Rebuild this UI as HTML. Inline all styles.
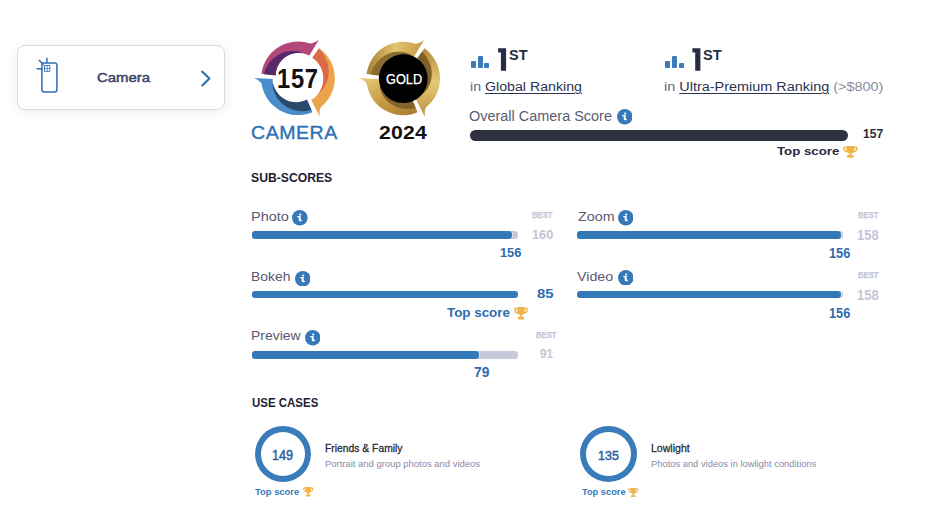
<!DOCTYPE html><html><head><meta charset="utf-8"><title>Camera</title><style>

*{margin:0;padding:0;box-sizing:border-box}
html,body{width:930px;height:512px;overflow:hidden;background:#fff}
body{position:relative;font-family:"Liberation Sans",sans-serif}
.t{position:absolute;white-space:nowrap;line-height:1}
.u{text-decoration:underline;text-decoration-thickness:1px;text-underline-offset:1.5px}

</style></head><body>
<div style="position:absolute;left:16.8px;top:45px;width:208.2px;height:65px;border:1px solid #d6d8e6;border-radius:8px;background:#fff;box-shadow:0 2px 12px rgba(40,50,90,0.09)"></div>
<svg style="position:absolute;left:0;top:0" width="930" height="512" viewBox="0 0 930 512">
<g fill="none" stroke="#2e6db3" stroke-width="1.5">
<rect x="41.9" y="62.9" width="15" height="29.1" rx="2.2"/>
<line x1="46.9" y1="57.8" x2="46.9" y2="63"/>
<line x1="36.6" y1="68.8" x2="42" y2="68.8"/>
<line x1="38.8" y1="60" x2="43.6" y2="64.6"/>
<rect x="43.9" y="64.9" width="6.4" height="6.8" rx="0.6" fill="#2e6db3" stroke="none"/>
<rect x="44.8" y="65.8" width="2.0" height="2.2" fill="#fff" stroke="none"/>
<rect x="47.5" y="65.8" width="2.0" height="2.2" fill="#fff" stroke="none"/>
<rect x="44.8" y="68.7" width="2.0" height="2.2" fill="#fff" stroke="none"/>
<rect x="47.5" y="68.7" width="2.0" height="2.2" fill="#fff" stroke="none"/>
<polyline points="202.1,71.6 209.4,78.5 202.3,85.4" stroke-width="2.1" stroke-linecap="round" stroke-linejoin="round"/>
</g>
<defs>
<linearGradient id="g1" x1="0" y1="0" x2="1" y2="1"><stop offset="0" stop-color="#e9cf7e"/><stop offset="0.5" stop-color="#c89b45"/><stop offset="1" stop-color="#a87a35"/></linearGradient>
<linearGradient id="g2" x1="0" y1="0" x2="1" y2="0"><stop offset="0" stop-color="#a98036"/><stop offset="0.5" stop-color="#e3c471"/><stop offset="1" stop-color="#c79a45"/></linearGradient>
<linearGradient id="g3" x1="0" y1="0" x2="0" y2="1"><stop offset="0" stop-color="#b48a3c"/><stop offset="0.5" stop-color="#e6c976"/><stop offset="1" stop-color="#c09040"/></linearGradient>
</defs><g><path d="M308.16 102.23 L312.38 112.17 A36.80 36.80 0 0 1 261.60 83.74 Q260.30 81.10 254.20 77.92 L272.51 78.97 A25.50 25.50 0 0 0 307.96 101.77 Z" fill="#4a8dca"/><path d="M311.48 110.06 L309.02 110.62 L306.56 110.99 L304.09 111.18 L301.65 111.18 L299.24 111.01 L296.87 110.66 L294.56 110.14 L292.32 109.45 L290.16 108.62 L288.09 107.63 L286.12 106.51 L284.27 105.25 L282.53 103.88 L280.92 102.40 L279.43 100.82 L278.09 99.16 L276.89 97.42 L275.84 95.62 L274.93 93.76 L274.18 91.87 L273.57 89.95 L273.12 88.02 L272.82 86.08 L272.67 84.15 L273.15 84.04 L273.66 85.82 L274.30 87.55 L275.08 89.23 L275.99 90.84 L277.02 92.37 L278.15 93.81 L279.39 95.15 L280.73 96.40 L282.15 97.53 L283.64 98.55 L285.20 99.46 L286.82 100.23 L288.49 100.88 L290.19 101.40 L291.92 101.79 L293.67 102.05 L295.42 102.17 L297.17 102.16 L298.90 102.02 L300.60 101.75 L302.27 101.36 L303.90 100.85 L305.47 100.21 L306.99 99.47 Z" fill="#2a4a6b"/><path d="M272.19 75.13 L261.47 73.82 A36.80 36.80 0 0 1 310.28 43.61 Q313.22 43.70 318.90 39.81 L309.38 55.48 A25.50 25.50 0 0 0 272.69 75.19 Z" fill="#b2477b"/><path d="M263.76 74.10 L264.46 71.88 L265.31 69.74 L266.29 67.69 L267.40 65.73 L268.63 63.87 L269.96 62.11 L271.40 60.47 L272.93 58.95 L274.55 57.55 L276.24 56.28 L277.99 55.14 L279.80 54.14 L281.64 53.27 L283.53 52.55 L285.43 51.96 L287.35 51.50 L289.28 51.19 L291.20 51.01 L293.10 50.97 L294.98 51.05 L296.82 51.26 L298.62 51.60 L300.37 52.05 L302.07 52.62 L301.99 53.11 L300.29 52.93 L298.59 52.88 L296.89 52.97 L295.21 53.17 L293.55 53.50 L291.93 53.95 L290.35 54.51 L288.81 55.17 L287.34 55.95 L285.93 56.82 L284.59 57.79 L283.33 58.84 L282.16 59.97 L281.08 61.18 L280.09 62.45 L279.19 63.78 L278.40 65.16 L277.72 66.59 L277.14 68.05 L276.66 69.54 L276.30 71.04 L276.05 72.55 L275.90 74.07 L275.87 75.58 Z" fill="#57296b"/><path d="M312.91 57.00 L319.11 48.16 A36.80 36.80 0 0 1 320.91 107.10 Q319.27 109.55 319.57 116.42 L311.32 100.04 A25.50 25.50 0 0 0 312.63 57.41 Z" fill="#eca44b"/><path d="M318.94 48.40 L320.53 50.14 L321.99 51.96 L323.31 53.86 L324.49 55.81 L325.52 57.81 L326.41 59.85 L327.15 61.92 L327.74 64.01 L328.19 66.10 L328.49 68.20 L328.65 70.28 L328.68 72.34 L328.56 74.37 L328.31 76.36 L327.94 78.30 L327.44 80.19 L326.82 82.01 L326.10 83.76 L325.27 85.44 L324.34 87.03 L323.32 88.53 L322.22 89.94 L321.05 91.25 L319.81 92.46 L319.39 92.19 L320.23 90.79 L320.97 89.34 L321.62 87.84 L322.17 86.31 L322.62 84.74 L322.97 83.15 L323.21 81.54 L323.35 79.92 L323.39 78.30 L323.31 76.68 L323.14 75.06 L322.86 73.47 L322.48 71.89 L321.99 70.35 L321.41 68.84 L320.74 67.37 L319.97 65.95 L319.11 64.59 L318.17 63.28 L317.15 62.04 L316.05 60.87 L314.88 59.77 L313.64 58.76 L312.34 57.82 Z" fill="#dc6a48"/></g>
<g><path d="M412.89 101.33 L417.58 112.37 A36.80 36.80 0 0 1 366.80 83.94 Q365.50 81.30 359.40 78.12 L378.91 79.14 A24.30 24.30 0 0 0 412.69 100.87 Z" fill="url(#g1)"/><path d="M415.63 107.77 L413.48 108.28 L411.32 108.64 L409.17 108.84 L407.02 108.89 L404.90 108.79 L402.81 108.55 L400.76 108.16 L398.76 107.63 L396.82 106.97 L394.96 106.18 L393.17 105.27 L391.46 104.25 L389.85 103.12 L388.34 101.90 L386.94 100.58 L385.64 99.18 L384.46 97.71 L383.39 96.18 L382.45 94.59 L381.63 92.96 L380.94 91.29 L380.37 89.59 L379.93 87.88 L379.61 86.16 L380.09 86.01 L380.66 87.59 L381.34 89.12 L382.13 90.60 L383.01 92.03 L384.00 93.39 L385.07 94.68 L386.23 95.89 L387.47 97.02 L388.79 98.07 L390.17 99.01 L391.62 99.86 L393.12 100.61 L394.67 101.25 L396.26 101.79 L397.89 102.21 L399.54 102.52 L401.21 102.72 L402.88 102.80 L404.56 102.76 L406.23 102.61 L407.89 102.34 L409.52 101.96 L411.13 101.47 L412.69 100.87 Z" fill="#86632a"/><path d="M378.58 75.48 L366.67 74.02 A36.80 36.80 0 0 1 415.48 43.81 Q418.42 43.90 424.10 40.01 L414.04 56.75 A24.30 24.30 0 0 0 379.08 75.54 Z" fill="url(#g2)"/><path d="M370.64 74.50 L371.37 72.10 L372.27 69.78 L373.34 67.56 L374.57 65.45 L375.94 63.47 L377.44 61.61 L379.07 59.90 L380.81 58.34 L382.64 56.93 L384.56 55.68 L386.54 54.60 L388.58 53.69 L390.67 52.94 L392.77 52.37 L394.90 51.97 L397.02 51.74 L399.13 51.67 L401.21 51.77 L403.26 52.03 L405.25 52.45 L407.18 53.01 L409.04 53.71 L410.81 54.55 L412.49 55.51 L412.30 55.97 L410.56 55.34 L408.77 54.85 L406.95 54.49 L405.11 54.27 L403.25 54.20 L401.40 54.27 L399.56 54.47 L397.73 54.82 L395.94 55.31 L394.20 55.93 L392.50 56.68 L390.87 57.56 L389.31 58.56 L387.83 59.68 L386.43 60.91 L385.14 62.24 L383.95 63.67 L382.88 65.18 L381.92 66.77 L381.09 68.42 L380.38 70.14 L379.81 71.90 L379.38 73.71 L379.08 75.54 Z" fill="#8d6a2d"/><path d="M417.42 58.19 L424.31 48.36 A36.80 36.80 0 0 1 426.11 107.30 Q424.47 109.75 424.77 116.62 L415.90 99.22 A24.30 24.30 0 0 0 417.14 58.59 Z" fill="url(#g3)"/><path d="M422.01 51.63 L423.61 53.25 L425.08 54.97 L426.41 56.76 L427.60 58.63 L428.64 60.55 L429.53 62.52 L430.28 64.53 L430.87 66.56 L431.31 68.61 L431.61 70.67 L431.75 72.71 L431.75 74.74 L431.61 76.74 L431.33 78.70 L430.92 80.62 L430.38 82.48 L429.71 84.28 L428.93 86.00 L428.04 87.64 L427.04 89.20 L425.95 90.66 L424.78 92.03 L423.52 93.29 L422.20 94.44 L421.81 94.12 L422.85 92.80 L423.79 91.41 L424.63 89.95 L425.37 88.45 L426.00 86.89 L426.53 85.30 L426.94 83.67 L427.24 82.02 L427.43 80.35 L427.50 78.68 L427.45 77.00 L427.29 75.33 L427.02 73.67 L426.63 72.04 L426.12 70.44 L425.51 68.88 L424.80 67.36 L423.97 65.89 L423.05 64.49 L422.04 63.15 L420.94 61.89 L419.75 60.70 L418.48 59.60 L417.14 58.59 Z" fill="#806027"/></g>
<circle cx="403.3" cy="78.6" r="24.5" fill="#000"/>
</svg>
<div style="position:absolute;left:471.1px;top:56.1px;width:19px;height:13px"><div style="position:absolute;left:0;top:4.5px;width:4.7px;height:7.8px;background:#3a7bb9;border-radius:1px"></div><div style="position:absolute;left:6.6px;top:0;width:5.1px;height:12.3px;background:#3a7bb9;border-radius:1px"></div><div style="position:absolute;left:13.2px;top:7.2px;width:5.1px;height:5.1px;background:#3a7bb9;border-radius:1px"></div></div>
<div style="position:absolute;left:665.4px;top:56.1px;width:19px;height:13px"><div style="position:absolute;left:0;top:4.5px;width:4.7px;height:7.8px;background:#3a7bb9;border-radius:1px"></div><div style="position:absolute;left:6.6px;top:0;width:5.1px;height:12.3px;background:#3a7bb9;border-radius:1px"></div><div style="position:absolute;left:13.2px;top:7.2px;width:5.1px;height:5.1px;background:#3a7bb9;border-radius:1px"></div></div>
<svg style="position:absolute;left:0;top:0" width="930" height="120"><path d="M498.1 48.2 H506.1 V70.8 H500.9 V52.4 H498.1 Z" fill="#262c44"/></svg>
<svg style="position:absolute;left:0;top:0" width="930" height="120"><path d="M692.4 48.2 H700.4 V70.8 H695.2 V52.4 H692.4 Z" fill="#262c44"/></svg>
<div style="position:absolute;left:470.0px;top:129.5px;width:378.0px;height:11.0px;border-radius:5.5px;background:#2e3240;"></div>
<svg style="position:absolute;left:616.7px;top:109.0px" width="15.6" height="15.6" viewBox="0 0 16 16"><circle cx="8" cy="8" r="8" fill="#3679b9"/><circle cx="8.4" cy="4.7" r="1.1" fill="#fff"/><path d="M5.4 6.1 L8.9 6.1 L8.9 9.7 Q8.9 10.3 9.5 10.1 L10.2 9.9 L10.2 11.0 Q9.4 11.6 8.4 11.6 Q6.9 11.6 6.9 10.2 L6.9 7.4 L5.4 7.4 Z" fill="#fff"/></svg>
<svg style="position:absolute;left:843.0px;top:145.9px" width="14.8" height="11.7" viewBox="0 0 14 12.6" preserveAspectRatio="none"><path d="M3.2 0 H10.8 V4.2 Q10.8 7.4 7.9 8 V9.8 H10 V12.6 H4 V9.8 H6.1 V8 Q3.2 7.4 3.2 4.2 Z" fill="#f0b44a"/><path d="M3.4 1.5 H1 V3.2 Q1 5.6 3.8 6.2" fill="none" stroke="#f0b44a" stroke-width="1.4"/><path d="M10.6 1.5 H13 V3.2 Q13 5.6 10.2 6.2" fill="none" stroke="#f0b44a" stroke-width="1.4"/></svg>
<div style="position:absolute;left:251.8px;top:231.0px;width:266.7px;height:7.6px;border-radius:3.2px;background:#c6c9da;"></div>
<div style="position:absolute;left:251.8px;top:231.0px;width:260.2px;height:7.6px;border-radius:3.2px;background:#3379b8;box-shadow:0.6px 0 0 #f4f0f4"></div>
<svg style="position:absolute;left:292.4px;top:210.0px" width="15.6" height="15.6" viewBox="0 0 16 16"><circle cx="8" cy="8" r="8" fill="#3679b9"/><circle cx="8.4" cy="4.7" r="1.1" fill="#fff"/><path d="M5.4 6.1 L8.9 6.1 L8.9 9.7 Q8.9 10.3 9.5 10.1 L10.2 9.9 L10.2 11.0 Q9.4 11.6 8.4 11.6 Q6.9 11.6 6.9 10.2 L6.9 7.4 L5.4 7.4 Z" fill="#fff"/></svg>
<div style="position:absolute;left:251.8px;top:290.5px;width:266.7px;height:7.6px;border-radius:3.2px;background:#c6c9da;"></div>
<div style="position:absolute;left:251.8px;top:290.5px;width:266.7px;height:7.6px;border-radius:3.2px;background:#3379b8;box-shadow:0.6px 0 0 #f4f0f4"></div>
<svg style="position:absolute;left:294.7px;top:270.6px" width="15.6" height="15.6" viewBox="0 0 16 16"><circle cx="8" cy="8" r="8" fill="#3679b9"/><circle cx="8.4" cy="4.7" r="1.1" fill="#fff"/><path d="M5.4 6.1 L8.9 6.1 L8.9 9.7 Q8.9 10.3 9.5 10.1 L10.2 9.9 L10.2 11.0 Q9.4 11.6 8.4 11.6 Q6.9 11.6 6.9 10.2 L6.9 7.4 L5.4 7.4 Z" fill="#fff"/></svg>
<div style="position:absolute;left:251.8px;top:351.0px;width:266.7px;height:7.6px;border-radius:3.2px;background:#c6c9da;"></div>
<div style="position:absolute;left:251.8px;top:351.0px;width:227.6px;height:7.6px;border-radius:3.2px;background:#3379b8;box-shadow:0.6px 0 0 #f4f0f4"></div>
<svg style="position:absolute;left:304.7px;top:330.2px" width="15.6" height="15.6" viewBox="0 0 16 16"><circle cx="8" cy="8" r="8" fill="#3679b9"/><circle cx="8.4" cy="4.7" r="1.1" fill="#fff"/><path d="M5.4 6.1 L8.9 6.1 L8.9 9.7 Q8.9 10.3 9.5 10.1 L10.2 9.9 L10.2 11.0 Q9.4 11.6 8.4 11.6 Q6.9 11.6 6.9 10.2 L6.9 7.4 L5.4 7.4 Z" fill="#fff"/></svg>
<div style="position:absolute;left:576.8px;top:231.0px;width:266.7px;height:7.6px;border-radius:3.2px;background:#c6c9da;"></div>
<div style="position:absolute;left:576.8px;top:231.0px;width:264.7px;height:7.6px;border-radius:3.2px;background:#3379b8;box-shadow:0.6px 0 0 #f4f0f4"></div>
<svg style="position:absolute;left:617.6px;top:210.0px" width="15.6" height="15.6" viewBox="0 0 16 16"><circle cx="8" cy="8" r="8" fill="#3679b9"/><circle cx="8.4" cy="4.7" r="1.1" fill="#fff"/><path d="M5.4 6.1 L8.9 6.1 L8.9 9.7 Q8.9 10.3 9.5 10.1 L10.2 9.9 L10.2 11.0 Q9.4 11.6 8.4 11.6 Q6.9 11.6 6.9 10.2 L6.9 7.4 L5.4 7.4 Z" fill="#fff"/></svg>
<div style="position:absolute;left:576.8px;top:290.8px;width:266.7px;height:7.6px;border-radius:3.2px;background:#c6c9da;"></div>
<div style="position:absolute;left:576.8px;top:290.8px;width:264.7px;height:7.6px;border-radius:3.2px;background:#3379b8;box-shadow:0.6px 0 0 #f4f0f4"></div>
<svg style="position:absolute;left:617.7px;top:269.7px" width="15.6" height="15.6" viewBox="0 0 16 16"><circle cx="8" cy="8" r="8" fill="#3679b9"/><circle cx="8.4" cy="4.7" r="1.1" fill="#fff"/><path d="M5.4 6.1 L8.9 6.1 L8.9 9.7 Q8.9 10.3 9.5 10.1 L10.2 9.9 L10.2 11.0 Q9.4 11.6 8.4 11.6 Q6.9 11.6 6.9 10.2 L6.9 7.4 L5.4 7.4 Z" fill="#fff"/></svg>
<svg style="position:absolute;left:514.0px;top:307.3px" width="14.0" height="12.6" viewBox="0 0 14 12.6" preserveAspectRatio="none"><path d="M3.2 0 H10.8 V4.2 Q10.8 7.4 7.9 8 V9.8 H10 V12.6 H4 V9.8 H6.1 V8 Q3.2 7.4 3.2 4.2 Z" fill="#f0b44a"/><path d="M3.4 1.5 H1 V3.2 Q1 5.6 3.8 6.2" fill="none" stroke="#f0b44a" stroke-width="1.4"/><path d="M10.6 1.5 H13 V3.2 Q13 5.6 10.2 6.2" fill="none" stroke="#f0b44a" stroke-width="1.4"/></svg>
<div style="position:absolute;left:254.9px;top:426.1px;width:56.4px;height:56.2px;border-radius:50%;border:6.4px solid #3a7bb9"></div>
<div style="position:absolute;left:580.2px;top:426.0px;width:56.4px;height:56.2px;border-radius:50%;border:6.4px solid #3a7bb9"></div>
<svg style="position:absolute;left:303.0px;top:487.2px" width="10.5" height="9.5" viewBox="0 0 14 12.6" preserveAspectRatio="none"><path d="M3.2 0 H10.8 V4.2 Q10.8 7.4 7.9 8 V9.8 H10 V12.6 H4 V9.8 H6.1 V8 Q3.2 7.4 3.2 4.2 Z" fill="#f0b44a"/><path d="M3.4 1.5 H1 V3.2 Q1 5.6 3.8 6.2" fill="none" stroke="#f0b44a" stroke-width="1.4"/><path d="M10.6 1.5 H13 V3.2 Q13 5.6 10.2 6.2" fill="none" stroke="#f0b44a" stroke-width="1.4"/></svg>
<svg style="position:absolute;left:628.3px;top:487.6px" width="10.5" height="9.3" viewBox="0 0 14 12.6" preserveAspectRatio="none"><path d="M3.2 0 H10.8 V4.2 Q10.8 7.4 7.9 8 V9.8 H10 V12.6 H4 V9.8 H6.1 V8 Q3.2 7.4 3.2 4.2 Z" fill="#f0b44a"/><path d="M3.4 1.5 H1 V3.2 Q1 5.6 3.8 6.2" fill="none" stroke="#f0b44a" stroke-width="1.4"/><path d="M10.6 1.5 H13 V3.2 Q13 5.6 10.2 6.2" fill="none" stroke="#f0b44a" stroke-width="1.4"/></svg>
<div class="t" id="camcard" style="left:96.91px;top:72.34px;font-size:12.209px;letter-spacing:0.000px;font-weight:400;color:#3b4166;transform:scaleX(1.2209);transform-origin:0 0;-webkit-text-stroke:0.45px currentColor">Camera</div>
<div class="t" id="b157" style="left:277.40px;top:64.61px;font-size:28.052px;letter-spacing:0.800px;font-weight:700;color:#111111;transform:scaleX(0.8471);transform-origin:0 0">157</div>
<div class="t" id="bcam" style="left:251.28px;top:123.06px;font-size:19.041px;letter-spacing:0.500px;font-weight:400;color:#2d6fb4;transform:scaleX(1.0272);transform-origin:0 0;-webkit-text-stroke:0.35px currentColor">CAMERA</div>
<div class="t" id="gold" style="left:385.85px;top:71.63px;font-size:14.099px;letter-spacing:0.000px;font-weight:400;color:#ffffff;transform:scaleX(0.9051);transform-origin:0 0;-webkit-text-stroke:0.25px currentColor">GOLD</div>
<div class="t" id="y2024" style="left:379.20px;top:123.86px;font-size:18.169px;letter-spacing:0.200px;font-weight:700;color:#111111;transform:scaleX(1.1682);transform-origin:0 0">2024</div>
<div class="t" id="r1s" style="left:509.03px;top:46.68px;font-size:15.262px;letter-spacing:0.000px;font-weight:700;color:#262c44;transform:scaleX(0.9499);transform-origin:0 0">ST</div>
<div class="t" id="r1t" style="left:469.60px;top:79.93px;font-size:13.081px;letter-spacing:0.000px;font-weight:400;color:#2e3350;transform:scaleX(1.0843);transform-origin:0 0"><span style="color:#6a6880">in </span><span class="u">Global Ranking</span></div>
<div class="t" id="r2s" style="left:703.15px;top:46.68px;font-size:15.262px;letter-spacing:0.000px;font-weight:700;color:#262c44;transform:scaleX(0.9568);transform-origin:0 0">ST</div>
<div class="t" id="r2t" style="left:663.96px;top:79.93px;font-size:13.081px;letter-spacing:0.000px;font-weight:400;color:#2e3350;transform:scaleX(1.1035);transform-origin:0 0"><span style="color:#6a6880">in </span><span class="u">Ultra-Premium Ranking</span><span style="color:#8a8aa0"> (&gt;$800)</span></div>
<div class="t" id="ocs" style="left:469.45px;top:108.63px;font-size:14.099px;letter-spacing:0.000px;font-weight:400;color:#5a5d75;transform:scaleX(1.0263);transform-origin:0 0">Overall Camera Score</div>
<div class="t" id="o157" style="left:862.92px;top:127.89px;font-size:12.791px;letter-spacing:0.000px;font-weight:700;color:#272c3d;transform:scaleX(0.9417);transform-origin:0 0">157</div>
<div class="t" id="otop" style="left:776.81px;top:145.01px;font-size:11.773px;letter-spacing:0.000px;font-weight:700;color:#272c3d;transform:scaleX(1.1262);transform-origin:0 0">Top score</div>
<div class="t" id="subs" style="left:251.29px;top:172.24px;font-size:12.645px;letter-spacing:0.000px;font-weight:700;color:#1e2030;transform:scaleX(0.9652);transform-origin:0 0">SUB-SCORES</div>
<div class="t" id="photo" style="left:250.70px;top:210.96px;font-size:12.500px;letter-spacing:0.000px;font-weight:400;color:#5b5872;transform:scaleX(1.1590);transform-origin:0 0">Photo</div>
<div class="t" id="pbest" style="left:532.27px;top:211.27px;font-size:8.430px;letter-spacing:0.000px;font-weight:700;color:#c3c5d6;transform:scaleX(0.9141);transform-origin:0 0;-webkit-text-stroke:0.25px currentColor">BEST</div>
<div class="t" id="p160" style="left:531.77px;top:227.93px;font-size:13.081px;letter-spacing:0.000px;font-weight:700;color:#c3c5d6;transform:scaleX(0.9762);transform-origin:0 0">160</div>
<div class="t" id="p156" style="left:499.61px;top:247.41px;font-size:12.791px;letter-spacing:0.000px;font-weight:700;color:#2f6cae;transform:scaleX(1.0017);transform-origin:0 0">156</div>
<div class="t" id="bokeh" style="left:251.21px;top:269.65px;font-size:13.081px;letter-spacing:0.000px;font-weight:400;color:#5b5872;transform:scaleX(1.0634);transform-origin:0 0">Bokeh</div>
<div class="t" id="b85" style="left:536.66px;top:287.37px;font-size:13.663px;letter-spacing:0.000px;font-weight:700;color:#2f6cae;transform:scaleX(1.0923);transform-origin:0 0">85</div>
<div class="t" id="btop" style="left:447.49px;top:306.74px;font-size:12.500px;letter-spacing:0.000px;font-weight:700;color:#2f6cae;transform:scaleX(1.0703);transform-origin:0 0">Top score</div>
<div class="t" id="prev" style="left:250.88px;top:329.78px;font-size:12.500px;letter-spacing:0.000px;font-weight:400;color:#5b5872;transform:scaleX(1.1149);transform-origin:0 0">Preview</div>
<div class="t" id="vbest" style="left:536.38px;top:330.78px;font-size:8.576px;letter-spacing:0.000px;font-weight:700;color:#c3c5d6;transform:scaleX(0.8960);transform-origin:0 0;-webkit-text-stroke:0.25px currentColor">BEST</div>
<div class="t" id="v91" style="left:540.43px;top:347.31px;font-size:13.663px;letter-spacing:0.000px;font-weight:700;color:#c3c5d6;transform:scaleX(0.8528);transform-origin:0 0">91</div>
<div class="t" id="v79" style="left:473.50px;top:364.68px;font-size:14.390px;letter-spacing:0.000px;font-weight:700;color:#2f6cae;transform:scaleX(0.9614);transform-origin:0 0">79</div>
<div class="t" id="zoom" style="left:577.68px;top:211.07px;font-size:12.791px;letter-spacing:0.000px;font-weight:400;color:#5b5872;transform:scaleX(1.1185);transform-origin:0 0">Zoom</div>
<div class="t" id="zbest" style="left:858.32px;top:211.13px;font-size:8.866px;letter-spacing:0.000px;font-weight:700;color:#c3c5d6;transform:scaleX(0.8700);transform-origin:0 0;-webkit-text-stroke:0.25px currentColor">BEST</div>
<div class="t" id="z158" style="left:857.20px;top:227.89px;font-size:14.099px;letter-spacing:0.000px;font-weight:700;color:#c3c5d6;transform:scaleX(0.9208);transform-origin:0 0">158</div>
<div class="t" id="z156" style="left:828.61px;top:245.63px;font-size:14.099px;letter-spacing:0.000px;font-weight:700;color:#2f6cae;transform:scaleX(0.9052);transform-origin:0 0">156</div>
<div class="t" id="video" style="left:577.25px;top:269.67px;font-size:13.445px;letter-spacing:0.000px;font-weight:400;color:#5b5872;transform:scaleX(1.0614);transform-origin:0 0">Video</div>
<div class="t" id="vdbest" style="left:858.32px;top:271.13px;font-size:8.866px;letter-spacing:0.000px;font-weight:700;color:#c3c5d6;transform:scaleX(0.8700);transform-origin:0 0;-webkit-text-stroke:0.25px currentColor">BEST</div>
<div class="t" id="vd158" style="left:857.20px;top:287.89px;font-size:14.099px;letter-spacing:0.000px;font-weight:700;color:#c3c5d6;transform:scaleX(0.9208);transform-origin:0 0">158</div>
<div class="t" id="vd156" style="left:828.61px;top:305.63px;font-size:14.099px;letter-spacing:0.000px;font-weight:700;color:#2f6cae;transform:scaleX(0.9052);transform-origin:0 0">156</div>
<div class="t" id="usec" style="left:251.61px;top:397.00px;font-size:12.500px;letter-spacing:0.000px;font-weight:700;color:#1e2030;transform:scaleX(0.9174);transform-origin:0 0">USE CASES</div>
<div class="t" id="u149" style="left:272.12px;top:449.39px;font-size:13.953px;letter-spacing:0.000px;font-weight:400;color:#2d63a3;transform:scaleX(0.9104);transform-origin:0 0;-webkit-text-stroke:0.5px currentColor">149</div>
<div class="t" id="utop1" style="left:255.23px;top:486.54px;font-size:9.593px;letter-spacing:0.000px;font-weight:700;color:#3a77b8;transform:scaleX(0.9813);transform-origin:0 0">Top score</div>
<div class="t" id="ff" style="left:325.29px;top:443.04px;font-size:10.756px;letter-spacing:0.000px;font-weight:400;color:#2a2d3a;transform:scaleX(0.9613);transform-origin:0 0;-webkit-text-stroke:0.3px currentColor">Friends &amp; Family</div>
<div class="t" id="ffd" style="left:325.00px;top:460.08px;font-size:8.576px;letter-spacing:0.000px;font-weight:400;color:#8c8aa2;transform:scaleX(1.1040);transform-origin:0 0">Portrait and group photos and videos</div>
<div class="t" id="u135" style="left:597.54px;top:450.35px;font-size:12.791px;letter-spacing:0.000px;font-weight:400;color:#2d63a3;transform:scaleX(0.9776);transform-origin:0 0;-webkit-text-stroke:0.5px currentColor">135</div>
<div class="t" id="utop2" style="left:581.91px;top:487.65px;font-size:9.157px;letter-spacing:0.000px;font-weight:700;color:#3a77b8;transform:scaleX(1.0126);transform-origin:0 0">Top score</div>
<div class="t" id="ll" style="left:650.51px;top:442.01px;font-size:11.773px;letter-spacing:0.000px;font-weight:400;color:#2a2d3a;transform:scaleX(0.8961);transform-origin:0 0;-webkit-text-stroke:0.3px currentColor">Lowlight</div>
<div class="t" id="lld" style="left:650.89px;top:460.03px;font-size:9.012px;letter-spacing:0.000px;font-weight:400;color:#8c8aa2;transform:scaleX(1.0392);transform-origin:0 0">Photos and videos in lowlight conditions</div>
</body></html>
